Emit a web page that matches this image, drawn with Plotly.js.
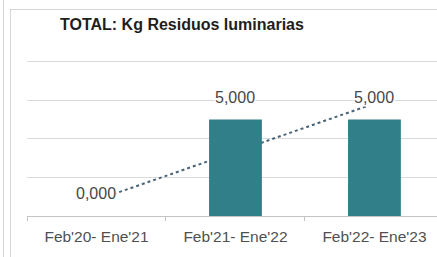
<!DOCTYPE html>
<html>
<head>
<meta charset="utf-8">
<script src="https://cdn.plot.ly/plotly-3.0.1.min.js"></script>
<style>
  html, body { margin:0; padding:0; background:#fff; overflow:hidden; }
  #wrap { position:relative; width:437px; height:257px; }
  #chart { position:absolute; left:0; top:0; width:437px; height:257px; }
  .frame { position:absolute; pointer-events:none; }
</style>
</head>
<body>
<div id="wrap">
  <div id="chart"></div>
  <div class="frame" style="left:3px; top:0; width:0; height:257px; border-left:1px solid #d6d6d6;"></div>
  <div class="frame" style="left:10px; top:9px; width:440px; height:260px; border-left:1px solid #d6d6d6; border-top:1px solid #d6d6d6;"></div>
</div>
<script>
const categories = ["Feb'20- Ene'21", "Feb'21- Ene'22", "Feb'22- Ene'23"];
const kgValues = [0, 5, 5];
const valueLabels = ["0,000", "5,000", "5,000"];
const trendline = [0.83, 5.83]; // dotted trend line, value at first and last category
const titleText = "TOTAL: Kg Residuos luminarias";

const bars = {
  type: 'bar',
  x: categories,
  y: kgValues,
  width: 0.38,
  marker: { color: '#307f89' },
  hoverinfo: 'skip'
};

const annotations = categories.map((c, i) => ({
  x: c, y: kgValues[i], xref: 'x', yref: 'y',
  text: valueLabels[i], showarrow: false,
  yanchor: 'bottom', yshift: 13,
  bgcolor: '#ffffff', borderpad: 0,
  font: { family: 'Liberation Sans, Arial, sans-serif', size: 16, color: '#474747' }
}));

const layout = {
  width: 437, height: 257,
  margin: { l: 27, r: 0, t: 52, b: 41 },
  paper_bgcolor: '#ffffff', plot_bgcolor: '#ffffff',
  showlegend: false,
  title: {
    text: '<b>' + titleText + '</b>',
    xref: 'container', yref: 'container',
    x: 60 / 437, xanchor: 'left',
    y: 1 - 24 / 257, yanchor: 'middle',
    font: { family: 'Liberation Sans, Arial, sans-serif', size: 16, color: '#1e1e1e' }
  },
  xaxis: {
    type: 'category',
    range: [-0.5, 2.45],
    showline: true, linecolor: '#c4c4c4', linewidth: 1,
    showgrid: false, zeroline: false,
    ticks: 'outside', tickson: 'boundaries', ticklen: 4, tickcolor: '#c4c4c4',
    ticklabelstandoff: 6,
    tickfont: { family: 'Liberation Sans, Arial, sans-serif', size: 15.5, color: '#505050' }
  },
  yaxis: {
    range: [0, 8.5], dtick: 2, tick0: 0,
    showticklabels: false, showline: false, zeroline: false,
    gridcolor: '#dadada', gridwidth: 1
  },
  shapes: [{
    type: 'line', xref: 'x', yref: 'y', layer: 'between',
    x0: 0, y0: trendline[0], x1: categories.length - 1, y1: trendline[1],
    line: { color: '#4b6477', width: 2, dash: 'dot' }
  }],
  annotations: annotations
};

Plotly.newPlot('chart', [bars], layout, { staticPlot: true, displayModeBar: false });
</script>
</body>
</html>
